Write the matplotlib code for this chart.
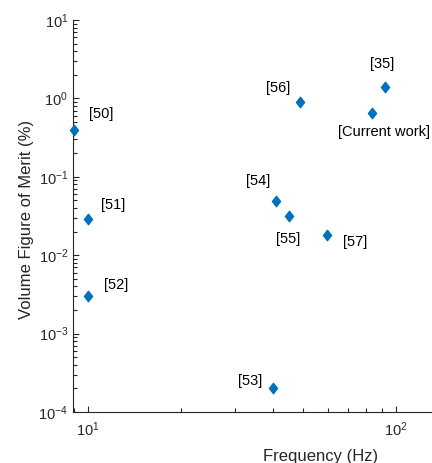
import matplotlib
matplotlib.use("Agg")
import matplotlib.pyplot as plt
from matplotlib.path import Path

plt.rcParams['font.family'] = ['Liberation Sans', 'DejaVu Sans']
plt.rcParams['mathtext.fontset'] = 'custom'
plt.rcParams['mathtext.rm'] = 'Liberation Sans'
plt.rcParams['mathtext.it'] = 'Liberation Sans'

# frequency (Hz) and volume figure of merit (%)
refs = ['[50]', '[51]', '[52]', '[53]', '[54]', '[55]', '[57]', '[56]', '[35]', '[Current work]']
freq = [9, 10, 10, 40, 40.7, 44.8, 59.7, 48.7, 92, 83.5]
fom = [0.4, 0.029, 0.003, 0.0002, 0.049, 0.032, 0.018, 0.89, 1.4, 0.66]
# label offsets in pixels (dx, dy) relative to each point
offsets = [(27, 16), (25, 14), (28, 11), (-23, 7), (-18, 20), (0, -23),
           (28, -7), (-22, 14), (-3, 23), (12, -19)]

blue = '#0072BD'
axcol = '#262626'

# MATLAB-like diamond, a bit wider than matplotlib's 'd'
diamond = Path([(0, 1), (0.78, 0), (0, -1), (-0.78, 0), (0, 1)],
               [Path.MOVETO, Path.LINETO, Path.LINETO, Path.LINETO, Path.CLOSEPOLY])

fig = plt.figure(figsize=(4.32, 4.63), dpi=100)
ax = fig.add_axes([73/432, 51/463, 1 - 73/432, 392/463])

ax.plot(freq, fom, linestyle='none', marker=diamond, markersize=7.5,
        color=blue, markeredgecolor=blue, clip_on=False, zorder=3)

for r, x, y, (dx, dy) in zip(refs, freq, fom, offsets):
    ax.annotate(r, (x, y), xytext=(dx, dy), textcoords='offset pixels',
                ha='center', va='center', fontsize=10.5, color='black')

ax.set_xscale('log')
ax.set_yscale('log')
ax.set_xlim(8.94, 131)
ax.set_ylim(1e-4, 1e1)

for s in ['top', 'right']:
    ax.spines[s].set_visible(False)
for s in ['left', 'bottom']:
    ax.spines[s].set_color(axcol)
    ax.spines[s].set_linewidth(0.8)

ax.tick_params(which='both', direction='in', colors=axcol, labelsize=10.5, width=0.8)
ax.tick_params(which='major', length=4.5)
ax.tick_params(which='minor', length=3)
ax.tick_params(axis='x', pad=6)

ax.set_xlabel('Frequency (Hz)', fontsize=12, color=axcol)
ax.set_ylabel('Volume Figure of Merit (%)', fontsize=12, color=axcol)
ax.xaxis.set_label_coords((321 - 73) / (432 - 73), -0.095)
ax.yaxis.set_label_coords(-0.108, 0.49)

fig.savefig('out.png', dpi=100)
